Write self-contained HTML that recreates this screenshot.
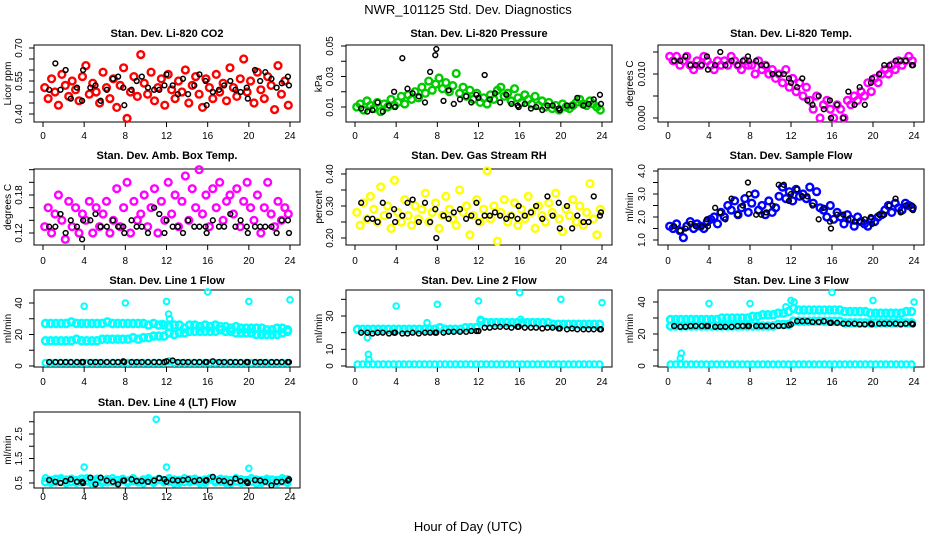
<!DOCTYPE html>
<html><head><meta charset="utf-8"><style>
body{margin:0;background:#fff;}
svg{display:block;font-family:"Liberation Sans",sans-serif;}
</style></head><body>
<svg id="chart" width="936" height="540" viewBox="0 0 936 540" xmlns="http://www.w3.org/2000/svg">
<text x="468" y="14" text-anchor="middle" font-size="13">NWR_101125  Std. Dev. Diagnostics</text>
<text x="468" y="531" text-anchor="middle" font-size="13">Hour of Day (UTC)</text>
</svg>
<script>
const blackHours=[0.6,1.2,1.7,2.2,2.7,3.3,3.8,3.9,4.6,5.1,5.6,6.2,6.8,7.3,7.8,7.9,8.6,9.1,9.6,10.2,10.8,11.3,11.8,12.0,12.6,13.1,13.6,14.1,14.7,15.2,15.8,15.9,16.5,17.1,17.6,18.2,18.7,19.2,19.8,19.9,20.6,21.1,21.6,22.2,22.7,23.2,23.8,23.9];
const xTicks=[0,4,8,12,16,20,24];
const co2Vals=[0.52,0.47,0.56,0.50,0.44,0.58,0.53,0.48,0.55,0.51,0.46,0.57,0.62,0.49,0.54,0.50,0.45,0.59,0.52,0.47,0.56,0.43,0.53,0.61,0.38,0.50,0.57,0.48,0.67,0.54,0.49,0.59,0.46,0.52,0.56,0.44,0.58,0.51,0.47,0.55,0.50,0.60,0.45,0.53,0.57,0.49,0.43,0.56,0.52,0.47,0.58,0.50,0.54,0.46,0.61,0.52,0.48,0.56,0.65,0.50,0.55,0.45,0.59,0.51,0.47,0.57,0.53,0.42,0.62,0.49,0.55,0.44];
const co2Black=[0.51,0.63,0.51,0.60,0.47,0.52,0.46,0.60,0.52,0.53,0.46,0.51,0.56,0.57,0.52,0.44,0.51,0.55,0.57,0.52,0.51,0.51,0.53,0.58,0.53,0.49,0.56,0.49,0.53,0.58,0.55,0.44,0.50,0.51,0.53,0.55,0.51,0.50,0.52,0.47,0.60,0.55,0.59,0.56,0.52,0.54,0.57,0.53];
const presVals=[0.010,0.012,0.008,0.014,0.011,0.009,0.013,0.007,0.012,0.010,0.015,0.011,0.013,0.017,0.012,0.018,0.015,0.020,0.016,0.023,0.019,0.027,0.021,0.025,0.029,0.022,0.026,0.020,0.024,0.032,0.019,0.023,0.017,0.021,0.015,0.019,0.013,0.016,0.012,0.018,0.015,0.021,0.023,0.017,0.019,0.014,0.022,0.016,0.013,0.018,0.015,0.012,0.017,0.011,0.014,0.010,0.013,0.009,0.011,0.008,0.012,0.010,0.009,0.011,0.013,0.015,0.012,0.011,0.014,0.012,0.010,0.008];
const presBlack=[0.009,0.007,0.008,0.013,0.007,0.011,0.020,0.010,0.042,0.022,0.019,0.017,0.013,0.033,0.044,0.048,0.014,0.021,0.012,0.015,0.017,0.013,0.018,0.016,0.031,0.015,0.019,0.013,0.018,0.012,0.011,0.010,0.012,0.009,0.010,0.008,0.011,0.011,0.009,0.008,0.011,0.011,0.016,0.011,0.012,0.015,0.018,0.012];
const tempVals=[0.014,0.013,0.014,0.012,0.013,0.014,0.012,0.011,0.013,0.012,0.014,0.013,0.012,0.011,0.013,0.012,0.013,0.012,0.014,0.013,0.012,0.011,0.013,0.012,0.012,0.010,0.013,0.011,0.012,0.010,0.011,0.009,0.010,0.008,0.011,0.007,0.009,0.006,0.008,0.005,0.007,0.004,0.002,0.005,0.000,0.003,0.004,0.002,0.000,0.003,0.002,0.000,0.004,0.003,0.005,0.004,0.006,0.005,0.008,0.006,0.009,0.008,0.010,0.011,0.010,0.012,0.011,0.013,0.012,0.013,0.014,0.013];
const tempBlack=[0.013,0.013,0.014,0.012,0.012,0.012,0.014,0.011,0.012,0.015,0.012,0.013,0.012,0.013,0.014,0.013,0.013,0.012,0.012,0.010,0.010,0.010,0.009,0.008,0.007,0.009,0.004,0.003,0.005,0.002,0.004,0.000,0.003,0.000,0.006,0.003,0.007,0.003,0.008,0.009,0.010,0.012,0.012,0.013,0.013,0.013,0.012,0.012];
const ambVals=[0.13,0.16,0.12,0.15,0.18,0.14,0.11,0.17,0.13,0.16,0.12,0.15,0.14,0.17,0.12,0.16,0.13,0.15,0.17,0.12,0.14,0.19,0.13,0.16,0.20,0.12,0.17,0.14,0.15,0.18,0.13,0.16,0.19,0.12,0.17,0.14,0.20,0.15,0.18,0.13,0.17,0.21,0.14,0.19,0.16,0.22,0.15,0.18,0.13,0.19,0.16,0.20,0.14,0.17,0.18,0.15,0.19,0.13,0.17,0.20,0.16,0.14,0.18,0.12,0.16,0.20,0.15,0.13,0.17,0.14,0.16,0.15];
const ambBlack=[0.13,0.13,0.15,0.12,0.14,0.13,0.11,0.14,0.14,0.15,0.13,0.13,0.14,0.13,0.13,0.12,0.14,0.13,0.13,0.12,0.16,0.15,0.12,0.14,0.13,0.13,0.12,0.14,0.13,0.13,0.13,0.12,0.14,0.13,0.13,0.15,0.13,0.14,0.13,0.12,0.13,0.13,0.13,0.13,0.12,0.14,0.14,0.12];
const rhVals=[0.28,0.24,0.31,0.26,0.33,0.29,0.25,0.36,0.27,0.30,0.23,0.38,0.28,0.25,0.32,0.27,0.24,0.30,0.26,0.29,0.34,0.25,0.28,0.31,0.23,0.27,0.33,0.29,0.26,0.24,0.35,0.28,0.30,0.21,0.27,0.32,0.25,0.29,0.41,0.26,0.30,0.19,0.28,0.32,0.25,0.27,0.31,0.24,0.29,0.26,0.33,0.28,0.23,0.30,0.27,0.25,0.31,0.28,0.34,0.26,0.22,0.29,0.27,0.32,0.25,0.30,0.24,0.28,0.37,0.26,0.21,0.29];
const rhBlack=[0.31,0.26,0.26,0.25,0.31,0.27,0.29,0.25,0.27,0.31,0.32,0.25,0.31,0.25,0.29,0.20,0.27,0.26,0.28,0.29,0.26,0.27,0.31,0.25,0.27,0.27,0.28,0.27,0.26,0.27,0.26,0.30,0.27,0.28,0.30,0.26,0.33,0.27,0.31,0.23,0.30,0.23,0.27,0.25,0.25,0.33,0.27,0.28];
const flowVals=[1.6,1.5,1.7,1.4,1.1,1.6,1.8,1.5,1.7,1.6,1.5,1.8,1.9,2.0,1.7,2.2,2.0,2.5,2.3,2.7,2.1,2.4,2.8,2.2,2.6,3.0,2.3,2.5,2.1,2.7,2.2,2.4,2.9,3.3,2.8,3.1,2.7,3.2,2.9,3.0,2.8,3.3,2.6,3.1,2.4,2.3,2.0,2.5,1.9,2.2,2.0,1.7,2.1,1.9,1.6,2.0,1.8,1.7,1.6,1.9,1.8,2.0,2.1,2.3,2.5,2.2,2.6,2.4,2.3,2.6,2.5,2.4];
const flowBlack=[1.6,1.4,1.5,1.7,1.6,1.6,1.9,1.6,2.4,2.2,1.9,2.8,2.1,2.5,3.5,3.0,2.1,2.1,2.2,2.5,3.4,3.4,2.7,3.0,3.2,2.9,2.9,2.5,1.9,2.4,1.8,1.5,2.1,2.1,1.9,1.8,1.8,1.9,2.0,1.7,2.1,2.1,2.5,2.8,2.2,2.5,2.5,2.3];
const line1A=[27,27,27,27,27,28,27,27,27,27,27,27,28,27,27,27,27,27,27,27,26,27,26,26,25,26,26,24,26,26,25,26,25,26,25,25,24,25,24,24,24,24,24,23,23,24,24,23];
const line1B=[16,16,16,16,16,16,17,16,16,16,16,17,17,17,17,17,17,18,17,18,18,19,19,19,21,20,21,21,22,22,22,22,22,22,23,22,22,21,21,21,21,20,20,20,20,20,21,22];
const line1C=[2,2,2,2,2,2,2,2,2,2,2,2,2,2,2,2,2,2,2,2,2,2,2,2,3,2,2,2,2,2,2,2,2,2,2,2,2,2,2,2,2,2,2,2,2,2,2,2];
const line1SpikeH=[4,8,11.6,12,12.2,12.3,16,20,24];
const line1SpikeV=[38,40,27,41,33,30,47,41,42];
const line1Black=[2.5,2.5,2.5,2.5,2.5,2.5,2.5,2.5,2.5,2.5,2.5,2.5,2.5,2.5,3,2.5,2.5,2.5,2.5,2.5,2.5,2.5,2.5,3,3.5,2.5,2.5,2.5,2.5,2.5,2.5,2.5,3,2.5,2.5,2.5,2.5,2.5,2.5,2.5,2.5,2.5,2.5,2.5,2.5,2.5,2.5,2.5];
const line2A=[22,22,22,22,22,22,22,22,22,22,22,22,22,22,22,22,23,22,22,22,22,23,23,23,27,26,26,26,26,26,26,26,26,26,26,26,26,26,25,25,25,25,25,25,25,25,25,25];
const line2C=[1,1,1,1,1,1,1,1,1,1,1,1,1,1,1,1,1,1,1,1,1,1,1,1,1,1,1,1,1,1,1,1,1,1,1,1,1,1,1,1,1,1,1,1,1,1,1,1];
const line2SpikeH=[1.2,1.3,1.35,4,7,8,12,12.2,16,16.1,20,24];
const line2SpikeV=[17,7,4,36,26,37,39,28,44,28,40,38];
const line2Black=[20,20,19.5,20,20,19.5,20,20,19.5,19.5,20,19.5,20,20,20,20,20,20.5,20.5,20.5,20.5,21,21,21,23,23,23.5,23.5,23.5,23,23.5,23.5,23,23,23,22.5,23,23,22.5,22.5,22,22.5,22,22,22,22,22,22];
const line3A=[29,29,29,29,29,29,29,29,29,29,30,30,30,30,30,30,31,31,32,32,32,33,33,34,36,35,35,35,35,35,35,35,35,35,34,34,34,34,34,33,33,33,33,33,33,33,34,34];
const line3B=[25,25,25,25,25,25,25,25,25,25,25,25,25,25,25,25,25,25,25,25,25,26,26,26,28,28,28,28,28,28,28,28,28,28,27,27,27,27,27,27,27,27,27,27,27,27,27,27];
const line3C=[1,1,1,1,1,1,1,1,1,1,1,1,1,1,1,1,1,1,1,1,1,1,1,1,1,1,1,1,1,1,1,1,1,1,1,1,1,1,1,1,1,1,1,1,1,1,1,1];
const line3SpikeH=[1.2,1.3,4,8,11.5,12,12.3,16,20,22.5,24];
const line3SpikeV=[5,8,39,39,37,41,40,46,41,29,40];
const line3Black=[25,24.5,24.5,25,25,25,25,25,24.5,24.5,24.5,24.5,25,25,25,25,25,25,25,25,25,25,25.5,26,28,28,28,27.5,27.5,28,27,27,27,26.5,26.5,26.5,26,26,26.5,26,26.5,26.5,26.5,26.5,26,26.5,26.5,26];
const line4A=[0.55,0.6,0.65,0.58,0.62,0.55,0.6,0.66,0.58,0.62,0.57,0.6,0.64,0.56,0.6,0.63,0.58,0.6,0.55,0.62,0.6,0.58,0.64,0.6,0.57,0.62,0.6,0.56,0.63,0.6,0.58,0.62,0.66,0.6,0.57,0.62,0.6,0.58,0.63,0.6,0.57,0.62,0.6,0.58,0.62,0.6,0.58,0.63];
const line4B=[0.7,0.5,0.52,0.7,0.48,0.68,0.5,0.52,0.7,0.47,0.68,0.5,0.52,0.7,0.48,0.68,0.5,0.7,0.52,0.48,0.7,0.5,0.68,0.52,0.7,0.48,0.5,0.7,0.52,0.68,0.48,0.5,0.7,0.52,0.68,0.5,0.48,0.7,0.5,0.52,0.7,0.48,0.5,0.68,0.52,0.5,0.7,0.5];
const line4SpikeH=[4,11,12,20];
const line4SpikeV=[1.15,3.1,1.15,1.1];
const line4Black=[0.62,0.55,0.5,0.58,0.65,0.55,0.55,0.5,0.72,0.45,0.72,0.6,0.55,0.45,0.6,0.6,0.65,0.58,0.58,0.55,0.6,0.7,0.65,0.55,0.62,0.6,0.62,0.65,0.58,0.62,0.6,0.62,0.75,0.6,0.58,0.52,0.68,0.58,0.55,0.5,0.62,0.6,0.55,0.4,0.55,0.55,0.6,0.65];

const NS='http://www.w3.org/2000/svg';
const svg=document.getElementById('chart');
const cols=[{bl:34,br:300,x0:43,x24:290,yl:11,tl:22},{bl:346,br:612,x0:355,x24:602,yl:322,tl:333},{bl:658,br:924,x0:668,x24:914,yl:633,tl:645}];
const rows=[{bt:45,bb:122,title:37,xl:139},{bt:169,bb:245,title:159,xl:264},{bt:290,bb:367,title:284,xl:385},{bt:412,bb:488,title:406,xl:500}];

function mk(tag,attrs,parent){const e=document.createElementNS(NS,tag);for(const k in attrs)e.setAttribute(k,attrs[k]);(parent||svg).appendChild(e);return e;}

function panel(p){
  const c=cols[p.col],r=rows[p.row];
  const g=mk('g',{});
  
  
  const X=h=>c.x0+h*(c.x24-c.x0)/24;
  const Y=v=>p.p0+(v-p.v0)*(p.p1-p.p0)/(p.v1-p.v0);
  const t=mk('text',{x:(c.bl+c.br)/2,y:r.title,'text-anchor':'middle','font-size':'11','font-weight':'bold'},g);
  t.textContent=p.title;
  
  
  const box=mk('rect',{x:c.bl,y:r.bt,width:c.br-c.bl,height:r.bb-r.bt,fill:'none',stroke:'#000','stroke-width':1},g);
  
  
  const yl=mk('text',{transform:`translate(${c.yl},${(r.bt+r.bb)/2}) rotate(-90)`,'text-anchor':'middle','font-size':'10'},g);
  yl.textContent=p.ylab;
  
  
  xTicks.forEach(h=>{
    const tk=mk('line',{x1:X(h),x2:X(h),y1:r.bb,y2:r.bb+5,stroke:'#000'},g);
    
    
    const tl=mk('text',{x:X(h),y:r.xl,'text-anchor':'middle','font-size':'10'},g);
    tl.textContent=String(h);
    
    
  });
  p.ticks.forEach((v,i)=>{
    const tk=mk('line',{x1:c.bl-5,x2:c.bl,y1:Y(v),y2:Y(v),stroke:'#000'},g);
    
    
    if(p.labels[i]){
      const tl=mk('text',{transform:`translate(${c.tl},${Y(v)}) rotate(-90)`,'text-anchor':'middle','font-size':'10'},g);
      tl.textContent=p.labels[i];
      
      
    }
  });
  p.series.forEach(s=>{
    s.vals.forEach((v,i)=>{
      const h=s.hours?s.hours[i]:(i+0.5)*24/s.vals.length;
      const pt=mk('circle',{cx:X(h),cy:Y(v),r:s.r||2.4,fill:'none',stroke:s.color,'stroke-width':s.sw||1.5},g);
      
      
    });
  });
}

const CR=3.4, CW=2.4;
panel({name:'panel-co2',col:0,row:0,title:'Stan. Dev. Li-820 CO2',ylab:'Licor ppm',v0:0.40,p0:114,v1:0.70,p1:48,
  ticks:[0.40,0.45,0.50,0.55,0.60,0.65,0.70],labels:['0.40','','','0.55','','','0.70'],
  series:[{vals:co2Vals,color:'#ff0000',name:'co2-point',r:CR,sw:CW},{vals:co2Black,hours:blackHours,color:'#000',name:'co2-cal-point'}]});
panel({name:'panel-pressure',col:1,row:0,title:'Stan. Dev. Li-820 Pressure',ylab:'kPa',v0:0.01,p0:107,v1:0.05,p1:46,
  ticks:[0.01,0.02,0.03,0.04,0.05],labels:['0.01','','0.03','','0.05'],
  series:[{vals:presVals,color:'#00cc00',name:'pressure-point',r:CR,sw:CW},{vals:presBlack,hours:blackHours,color:'#000',name:'pressure-cal-point'}]});
panel({name:'panel-licor-temp',col:2,row:0,title:'Stan. Dev. Li-820 Temp.',ylab:'degrees C',v0:0,p0:118,v1:0.010,p1:74,
  ticks:[0,0.005,0.010,0.015],labels:['0.000','','0.010',''],
  series:[{vals:tempVals,color:'#ff00ff',name:'licor-temp-point',r:CR,sw:CW},{vals:tempBlack,hours:blackHours,color:'#000',name:'licor-temp-cal-point'}]});
panel({name:'panel-amb-box-temp',col:0,row:1,title:'Stan. Dev. Amb. Box Temp.',ylab:'degrees C',v0:0.12,p0:233,v1:0.18,p1:195,
  ticks:[0.12,0.14,0.16,0.18,0.20,0.22],labels:['0.12','','','0.18','',''],
  series:[{vals:ambVals,color:'#ff00ff',name:'amb-temp-point',r:CR,sw:CW},{vals:ambBlack,hours:blackHours,color:'#000',name:'amb-temp-cal-point'}]});
panel({name:'panel-gas-rh',col:1,row:1,title:'Stan. Dev. Gas Stream RH',ylab:'percent',v0:0.20,p0:238,v1:0.40,p1:174,
  ticks:[0.20,0.25,0.30,0.35,0.40],labels:['0.20','','0.30','','0.40'],
  series:[{vals:rhVals,color:'#ffff00',name:'rh-point',r:CR,sw:CW},{vals:rhBlack,hours:blackHours,color:'#000',name:'rh-cal-point'}]});
panel({name:'panel-sample-flow',col:2,row:1,title:'Stan. Dev. Sample Flow',ylab:'ml/min',v0:1,p0:240,v1:4,p1:171,
  ticks:[1,1.5,2,2.5,3,3.5,4],labels:['1.0','','2.0','','3.0','','4.0'],
  series:[{vals:flowVals,color:'#0000ff',name:'sample-flow-point',r:CR,sw:CW},{vals:flowBlack,hours:blackHours,color:'#000',name:'sample-flow-cal-point'}]});
panel({name:'panel-line1',col:0,row:2,title:'Stan. Dev. Line 1 Flow',ylab:'ml/min',v0:0,p0:366,v1:40,p1:303,
  ticks:[0,10,20,30,40],labels:['0','','20','','40'],
  series:[{vals:line1A,color:'#00ffff',name:'line1-band-upper',r:3.5,sw:2.6},{vals:line1B,color:'#00ffff',name:'line1-band-lower',r:3.5,sw:2.6},{vals:line1C,color:'#00ffff',name:'line1-band-zero',r:3,sw:2.2},{vals:line1SpikeV,hours:line1SpikeH,color:'#00ffff',name:'line1-outlier',r:2.8,sw:2},{vals:line1Black,hours:blackHours,color:'#000',name:'line1-cal-point'}]});
panel({name:'panel-line2',col:1,row:2,title:'Stan. Dev. Line 2 Flow',ylab:'ml/min',v0:0,p0:366,v1:30,p1:316,
  ticks:[0,10,20,30,40],labels:['0','10','','30',''],
  series:[{vals:line2A,color:'#00ffff',name:'line2-band-upper',r:3.5,sw:2.6},{vals:line2C,color:'#00ffff',name:'line2-band-zero',r:3,sw:2.2},{vals:line2SpikeV,hours:line2SpikeH,color:'#00ffff',name:'line2-outlier',r:2.8,sw:2},{vals:line2Black,hours:blackHours,color:'#000',name:'line2-cal-point'}]});
panel({name:'panel-line3',col:2,row:2,title:'Stan. Dev. Line 3 Flow',ylab:'ml/min',v0:0,p0:366,v1:40,p1:302,
  ticks:[0,10,20,30,40],labels:['0','','20','','40'],
  series:[{vals:line3A,color:'#00ffff',name:'line3-band-upper',r:3.5,sw:2.6},{vals:line3B,color:'#00ffff',name:'line3-band-lower',r:3.5,sw:2.6},{vals:line3C,color:'#00ffff',name:'line3-band-zero',r:3,sw:2.2},{vals:line3SpikeV,hours:line3SpikeH,color:'#00ffff',name:'line3-outlier',r:2.8,sw:2},{vals:line3Black,hours:blackHours,color:'#000',name:'line3-cal-point'}]});
panel({name:'panel-line4',col:0,row:3,title:'Stan. Dev. Line 4 (LT) Flow',ylab:'ml/min',v0:0.5,p0:483,v1:2.5,p1:434,
  ticks:[0.5,1,1.5,2,2.5,3],labels:['0.5','','1.5','','2.5',''],
  series:[{vals:line4A,color:'#00ffff',name:'line4-band',r:3.5,sw:2.6},{vals:line4B,color:'#00ffff',name:'line4-band-scatter',r:3,sw:2.2},{vals:line4SpikeV,hours:line4SpikeH,color:'#00ffff',name:'line4-outlier',r:2.8,sw:2},{vals:line4Black,hours:blackHours,color:'#000',name:'line4-cal-point'}]});
</script>
</body></html>
